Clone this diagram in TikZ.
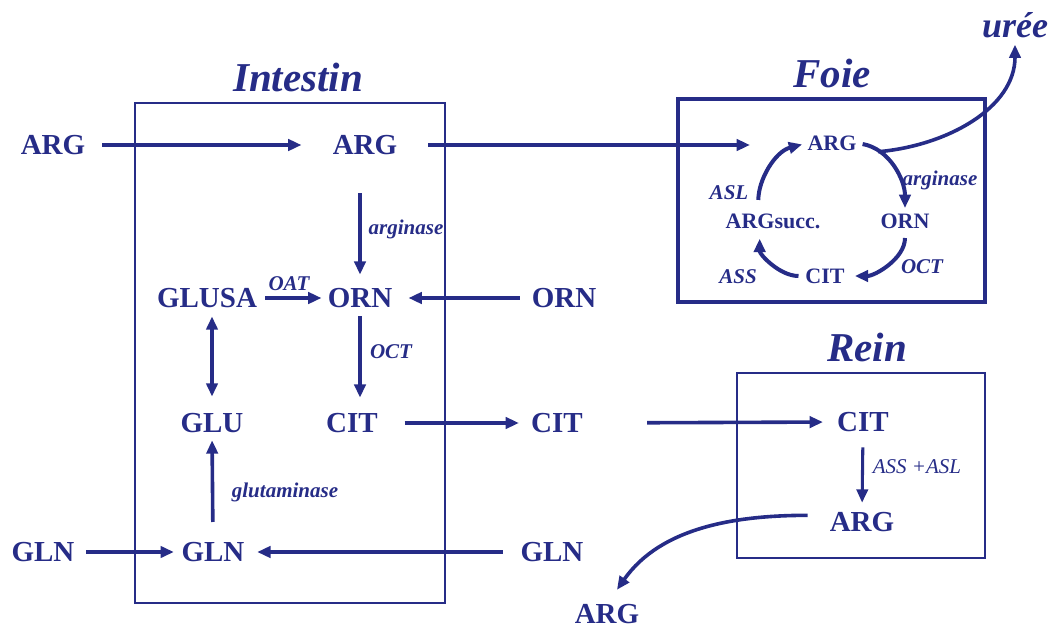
\documentclass[tikz,border=0pt]{standalone}
\usepackage{fontspec}
\setmainfont{Liberation Serif}
\usetikzlibrary{arrows.meta}
\definecolor{navy}{RGB}{38,44,135}
\begin{document}
\begin{tikzpicture}[x=0.75pt,y=0.75pt,
  >={Triangle[length=10pt,width=8.5pt]},
  every node/.style={inner sep=0pt, text=navy},
  mol/.style={font=\fontsize{21.75}{24}\selectfont\bfseries},
  fmol/.style={font=\fontsize{16.5}{19}\selectfont\bfseries},
  enz/.style={font=\fontsize{15.75}{18}\selectfont\bfseries\itshape},
  enzthin/.style={font=\fontsize{15.75}{18}\selectfont\itshape},
  ttl/.style={font=\fontsize{30.75}{34}\selectfont\bfseries\itshape},
  flow/.style={draw=navy, line width=2.7pt, ->},
  organ/.style={draw=navy, line width=2.1pt},
]
\useasboundingbox (0,0) rectangle (1051,-628);

% organ boxes
\draw[organ] (135,-103) rectangle (445,-603);
\draw[organ, line width=2.3pt] (678,-99) rectangle (985,-302);
\draw[organ, line width=1pt] (737,-373) rectangle (985,-558);

% titles
\node[ttl] (tInt) at (298,-77) {Intestin};
\node[ttl] (tFoie) at (832,-73) {Foie};
\node[ttl] (tRein) at (867,-347) {Rein};
\node[font=\fontsize{27}{30}\selectfont\bfseries\itshape] (uree) at (1015,-25) {urée};

% molecules
\node[mol] (argL) at (53,-145) {ARG};
\node[mol] (argI) at (365,-145) {ARG};
\node[mol] (orn) at (360,-298) {ORN};
\node[mol] (glusa) at (207,-298) {GLUSA};
\node[mol] (ornR) at (564,-298) {ORN};
\node[mol] (glu) at (212,-423) {GLU};
\node[mol] (cit) at (352,-423) {CIT};
\node[mol] (citM) at (557,-423) {CIT};
\node[mol] (glnL) at (43,-552) {GLN};
\node[mol] (glnI) at (213,-552) {GLN};
\node[mol] (glnR) at (552,-552) {GLN};
\node[mol] (citR) at (863,-422) {CIT};
\node[mol] (argR) at (862,-522) {ARG};
\node[mol] (argB) at (607,-614) {ARG};
\node[fmol] (fARG) at (832,-143) {ARG};
\node[fmol] (fORN) at (905,-221) {ORN};
\node[fmol] (fSUCC) at (773,-221) {ARGsucc.};
\node[fmol] (fCIT) at (825,-276) {CIT};

% enzyme labels
\node[enz] (l1) at (406,-229) {arginase};
\node[enz] (l2) at (289,-284) {OAT};
\node[enz] (l3) at (391,-352) {OCT};
\node[enz] (l4) at (285,-492) {glutaminase};
\node[enzthin] (l5) at (917,-467) {ASS +ASL};
\node[enz] (l6) at (940,-180) {arginase};
\node[enz] (l7) at (922,-267) {OCT};
\node[enz] (l8) at (738,-277) {ASS};
\node[enz] (l9) at (729,-193) {ASL};

% intestine connectors
\draw[flow, shorten <=12.75pt, shorten >=23.25pt] (argL.east) -- (argI.west);
\draw[flow, shorten <=23pt, shorten >=43pt] (argI.east) -- (argI.east -| fARG.west);
\draw[flow, shorten <=28.8pt, shorten >=10pt] (orn.north |- argI.south) -- (orn.north);
\draw[flow, shorten <=6pt, shorten >=4.5pt] (glusa.east) -- (orn.west);
\draw[flow, shorten <=9pt, shorten >=12pt] (ornR.west) -- (orn.east);
\draw[flow, shorten <=6.3pt, shorten >=11.5pt] (orn.south) -- (orn.south |- cit.north);
\draw[flow, <->, shorten <=6.3pt, shorten >=12.3pt] (glu.north |- glusa.south) -- (glu.north);
\draw[flow, shorten <=15pt, shorten >=5.5pt] (glnI.north) -- (glu.south);
\draw[flow, shorten <=8.6pt, shorten >=5.6pt] (glnL.east) -- (glnI.west);
\draw[flow, shorten <=13pt, shorten >=9.4pt] (glnR.west) -- (glnI.east);
\draw[flow, shorten <=20pt, shorten >=9pt] (cit.east) -- (citM.west);
\draw[flow, shorten <=48pt, shorten >=10.5pt] (citM.east) -- (citR.west);

% kidney
\draw[flow, line width=2.3pt, shorten <=11.5pt, shorten >=7pt] (citR.south) -- (argR.north);
\draw[flow, shorten <=16.5pt, shorten >=13pt] ([yshift=5pt]argR.west) to[out=180,in=55] (argB.north);

% liver cycle
\draw[flow, line width=3pt, shorten <=10pt, shorten >=4pt] ([xshift=-11pt]fSUCC.north) to[out=90,in=195] (fARG.west);
\draw[flow, line width=3pt, shorten <=4.5pt, shorten >=4pt] (fARG.east) to[out=-10,in=90] coordinate[pos=0.25] (branch) (fORN.north);
\draw[flow, line width=3pt, shorten <=7pt, shorten >=7.5pt] (fORN.south) to[out=-90,in=0] (fCIT.east);
\draw[flow, line width=3pt, shorten <=5pt, shorten >=7.5pt] (fCIT.west) to[out=180,in=-90] ([xshift=-10pt]fSUCC.south);
\draw[flow, shorten >=5pt] (branch) to[out=5,in=-90] (uree.south);
\end{tikzpicture}
\end{document}
